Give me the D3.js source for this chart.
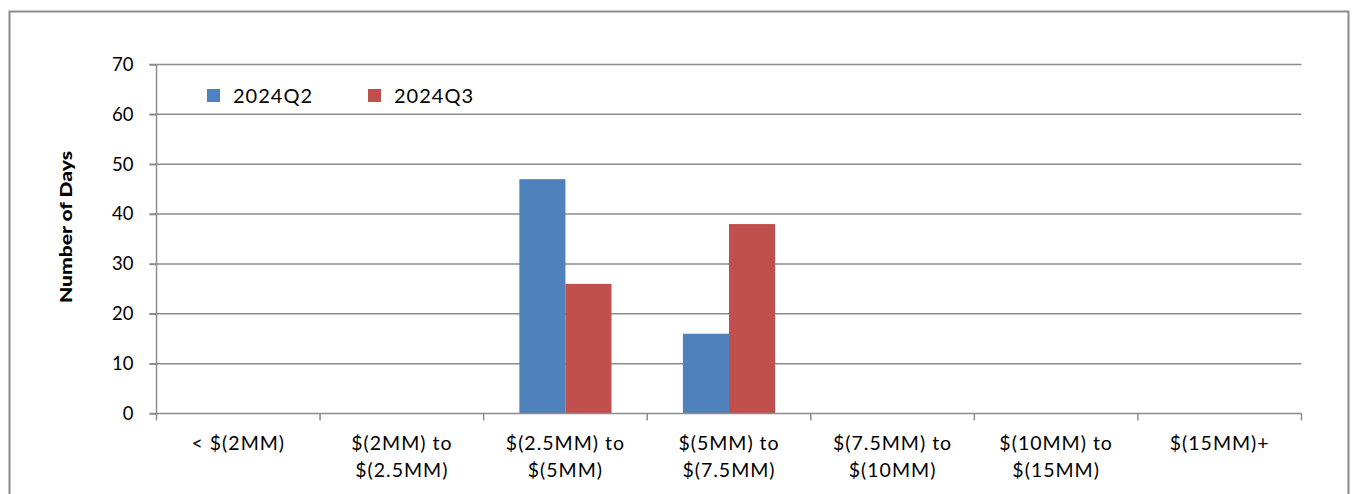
<!DOCTYPE html>
<html><head><meta charset="utf-8">
<script src="https://cdn.jsdelivr.net/npm/d3@7"></script>
<style>
html,body{margin:0;padding:0;background:#fff;}
svg{display:block;font-family:Lato, "Open Sans", sans-serif;}
</style></head>
<body>
<svg id="chart" width="1353" height="494"></svg>
<script>
const categories = [
  ["< $(2MM)"],
  ["$(2MM) to", "$(2.5MM)"],
  ["$(2.5MM) to", "$(5MM)"],
  ["$(5MM) to", "$(7.5MM)"],
  ["$(7.5MM) to", "$(10MM)"],
  ["$(10MM) to", "$(15MM)"],
  ["$(15MM)+"]
];
const seriesNames = ["2024Q2", "2024Q3"];
const seriesColors = ["#4F81BD", "#C0504D"];
const q2Values = [0, 0, 47, 16, 0, 0, 0];
const q3Values = [0, 0, 26, 38, 0, 0, 0];
const yTicks = [0, 10, 20, 30, 40, 50, 60, 70];
const yTitle = "Number of Days";

(function () {
const svg = d3.select("#chart");
const grid = "#8c8c8c";

// outer frame
svg.append("rect").attr("x", 9.5).attr("y", 11.5).attr("width", 1339).attr("height", 500)
  .attr("fill", "none").attr("stroke", "#8a8a8a").attr("stroke-width", 2);

const pL = 156.5, pR = 1301.5, pT = 64.5, pB = 413.5;
const idx = categories.map((d, i) => i);
const x = d3.scaleBand().domain(idx).range([pL, pR]).paddingInner(0).paddingOuter(0);
const y = d3.scaleLinear().domain([0, 70]).range([pB, pT]);

// gridlines
svg.append("g").selectAll("line").data(yTicks.filter(t => t > 0)).join("line")
  .attr("x1", pL - 7).attr("x2", pR)
  .attr("y1", d => y(d)).attr("y2", d => y(d))
  .attr("stroke", grid).attr("stroke-width", 1.5);

// bars
const sub = d3.scaleBand().domain([0, 1]).range([0, x.bandwidth()]).paddingOuter(0.775).paddingInner(0);
const series = [q2Values, q3Values];
series.forEach((vals, s) => {
  svg.append("g").selectAll("rect").data(vals).join("rect")
    .attr("x", (d, i) => x(i) + sub(s))
    .attr("width", sub.bandwidth())
    .attr("y", d => y(d))
    .attr("height", d => y(0) - y(d))
    .attr("fill", seriesColors[s]);
});

// y axis
const yAxis = d3.axisLeft(y).tickValues(yTicks).tickSize(7).tickPadding(16);
const gy = svg.append("g").attr("transform", `translate(${pL},0)`).call(yAxis);
gy.select(".domain").attr("stroke", grid).attr("stroke-width", 1.5).attr("d", `M0,${pT}V${pB}`);
gy.selectAll(".tick line").attr("stroke", grid).attr("stroke-width", 1.5);
gy.selectAll(".tick text").attr("font-family", "Lato").attr("font-size", 18.5).attr("fill", "#000");

// x axis
const xAxis = d3.axisBottom(x).tickSize(0).tickFormat(() => "");
const gx = svg.append("g").attr("transform", `translate(0,${pB})`).call(xAxis);
gx.select(".domain").attr("stroke", grid).attr("stroke-width", 1.5).attr("d", `M${pL - 7},0H${pR}`);
const bounds = idx.map(i => x(i)).concat([pR]);
svg.append("g").selectAll("line").data(bounds).join("line")
  .attr("x1", d => d).attr("x2", d => d).attr("y1", pB).attr("y2", pB + 7)
  .attr("stroke", grid).attr("stroke-width", 1.5);

// category labels
const lab = svg.append("g");
categories.forEach((lines, i) => {
  const t = lab.append("text").attr("text-anchor", "middle")
    .attr("font-size", 19.5).attr("letter-spacing", 1).attr("fill", "#000");
  lines.forEach((ln, j) => {
    t.append("tspan").attr("x", x(i) + x.bandwidth() / 2).attr("y", 450 + j * 27).text(ln);
  });
});

// y title
svg.append("text").attr("transform", "translate(72,227) rotate(-90)")
  .attr("text-anchor", "middle").attr("font-weight", 900).attr("font-size", 17)
  .attr("textLength", 152).attr("lengthAdjust", "spacingAndGlyphs")
  .attr("font-family", "Lato").attr("fill", "#000").text(yTitle);

// legend
const legX = [207, 368];
seriesNames.forEach((n, i) => {
  svg.append("rect").attr("x", legX[i]).attr("y", 89).attr("width", 13).attr("height", 13).attr("fill", seriesColors[i]);
  svg.append("text").attr("x", legX[i] + 26).attr("y", 103).attr("font-size", 20)
    .attr("letter-spacing", 1).attr("fill", "#000").text(n);
});
})();
</script>
</body></html>
